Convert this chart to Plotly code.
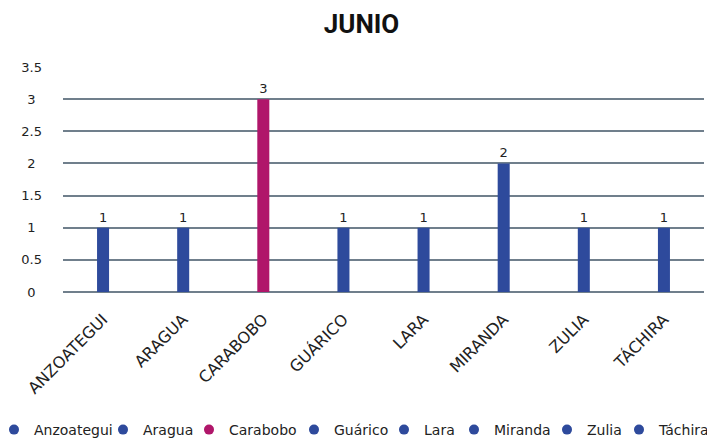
import plotly.graph_objects as go

categories = ["ANZOATEGUI", "ARAGUA", "CARABOBO", "GUÁRICO", "LARA", "MIRANDA", "ZULIA", "TÁCHIRA"]
legend_names = ["Anzoategui", "Aragua", "Carabobo", "Guárico", "Lara", "Miranda", "Zulia", "Táchira"]
values = [1, 1, 3, 1, 1, 2, 1, 1]
colors = ["#2E4A9C", "#2E4A9C", "#B0166A", "#2E4A9C", "#2E4A9C", "#2E4A9C", "#2E4A9C", "#2E4A9C"]
y_ticks = [0, 0.5, 1, 1.5, 2, 2.5, 3, 3.5]
y_tick_labels = ["0", "0.5", "1", "1.5", "2", "2.5", "3", "3.5"]

# Page has an 8px body margin, so the figure is drawn 8px smaller and layout
# positions below are given in figure pixels.
W, H = 707, 431
ML, MR, MT, MB = 55, 11, 59, 147
PW, PH = W - ML - MR, H - MT - MB
# legend symbol centres (figure px)
legend_sym_px = [6, 115, 201, 306, 396, 466, 559, 631]
SYM_OFF = 20  # distance from legend box left edge to symbol centre

FONT = "DejaVu Sans"
fig = go.Figure()
for cat, name, v, c in zip(categories, legend_names, values, colors):
    fig.add_trace(go.Bar(
        x=[cat], y=[v], width=0.15, marker=dict(color=c, line=dict(width=0)),
        text=[str(v)], textposition="outside", cliponaxis=False,
        textfont=dict(family=FONT, size=13, color="#222222"),
        showlegend=False, name=name,
    ))

legends = {}
for i, (name, c, px) in enumerate(zip(legend_names, colors, legend_sym_px)):
    key = "legend" if i == 0 else f"legend{i+1}"
    fig.add_trace(go.Scatter(
        x=[None], y=[None], mode="markers", name=name, legend=key,
        marker=dict(symbol="circle", size=10, color=c),
    ))
    legends[key] = dict(
        orientation="h", xref="paper", yref="paper",
        x=(px - SYM_OFF - ML) / PW, xanchor="left",
        y=(H - MB - 422) / PH, yanchor="middle",
        font=dict(family=FONT, size=14, color="#222222"),
        itemclick=False, itemdoubleclick=False,
        bgcolor="rgba(0,0,0,0)", borderwidth=0,
    )

# centre the y tick labels (reference centres them): pad short labels
y_tick_text = [t + "\u2002" if len(t) == 1 else t for t in y_tick_labels]

fig.update_layout(
    width=W, height=H,
    margin=dict(l=ML, r=MR, t=MT, b=MB, autoexpand=False),
    paper_bgcolor="white", plot_bgcolor="white",
    barmode="overlay",
    title=dict(text="<b>JUNIO</b>", x=0.5, xanchor="center", xref="container",
               y=1 - 16 / H, yanchor="middle", yref="container",
               font=dict(family="Roboto", size=26, color="#111111")),
    font=dict(family=FONT, size=13, color="#222222"),
    xaxis=dict(categoryorder="array", categoryarray=categories, tickangle=-45,
               showgrid=False, showline=False, ticks="", automargin=False,
               ticklabelstandoff=14, tickfont=dict(family=FONT, size=16, color="#222222")),
    yaxis=dict(range=[0, 3.5], tickvals=y_ticks, ticktext=y_tick_text,
               showgrid=True, gridcolor="#707F8C", gridwidth=2, zeroline=True,
               zerolinecolor="#707F8C", zerolinewidth=2, showline=False, ticks="",
               automargin=False, ticklabelstandoff=20,
               tickfont=dict(family=FONT, size=13, color="#222222")),
    **legends,
)

fig.write_html("out.html")
